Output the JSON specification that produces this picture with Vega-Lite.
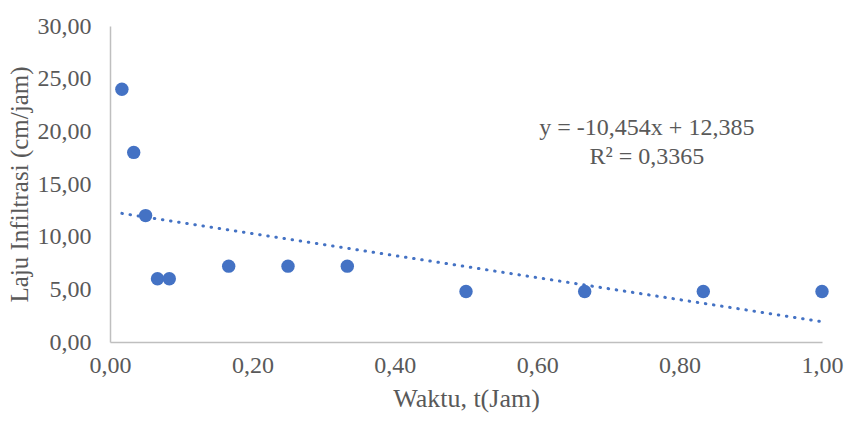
{
  "$schema": "https://vega.github.io/schema/vega-lite/v6.json",
  "width": 712,
  "height": 316,
  "autosize": "none",
  "padding": {"left": 110, "top": 26, "right": 23, "bottom": 79},
  "background": "white",
  "config": {
    "view": {"stroke": null},
    "font": "Liberation Serif",
    "axis": {
      "labelFont": "Liberation Serif",
      "titleFont": "Liberation Serif",
      "labelColor": "#595959",
      "titleColor": "#595959",
      "labelFontSize": 24,
      "titleFontSize": 25,
      "titleFontWeight": "normal",
      "domainColor": "#BFBFBF",
      "domainWidth": 1.5,
      "ticks": false,
      "grid": false,
      "labelFlush": false,
      "labelOverlap": false,
      "labelBound": false
    }
  },
  "datasets": {
    "points": [
      {"t": 0.0167, "laju": 24.0},
      {"t": 0.0333, "laju": 18.0},
      {"t": 0.05, "laju": 12.0},
      {"t": 0.0667, "laju": 6.0},
      {"t": 0.0833, "laju": 6.0},
      {"t": 0.1667, "laju": 7.2},
      {"t": 0.25, "laju": 7.2},
      {"t": 0.3333, "laju": 7.2},
      {"t": 0.5, "laju": 4.8},
      {"t": 0.6667, "laju": 4.8},
      {"t": 0.8333, "laju": 4.8},
      {"t": 1.0, "laju": 4.8}
    ],
    "trend": [
      {"t": 0.0167, "laju": 12.21},
      {"t": 1.0, "laju": 1.931}
    ],
    "eq": [
      {"t": 0.754, "laju": 20.3, "label": "y = -10,454x + 12,385"},
      {"t": 0.754, "laju": 17.55, "label": "R² = 0,3365"}
    ]
  },
  "layer": [
    {
      "data": {"name": "trend"},
      "mark": {"type": "line", "color": "#4472C4", "strokeWidth": 3, "strokeDash": [0.5, 7.7], "strokeCap": "round"},
      "encoding": {
        "x": {"field": "t", "type": "quantitative", "scale": {"domain": [0, 1], "padding": 0, "nice": false, "zero": false},
          "axis": {"title": "Waktu, t(Jam)", "titleFontSize": 26, "values": [0, 0.2, 0.4, 0.6, 0.8, 1.0],
            "labelExpr": "replace(format(datum.value, '.2f'), '.', ',')", "labelPadding": 11, "titlePadding": 8}},
        "y": {"field": "laju", "type": "quantitative", "scale": {"domain": [0, 30], "padding": 0, "nice": false},
          "axis": {"title": "Laju Infiltrasi (cm/jam)", "values": [0, 5, 10, 15, 20, 25, 30],
            "labelExpr": "replace(format(datum.value, '.2f'), '.', ',')", "labelPadding": 19, "titlePadding": 5}}
      }
    },
    {
      "data": {"name": "points"},
      "mark": {"type": "circle", "color": "#4472C4", "opacity": 1, "size": 180},
      "encoding": {
        "x": {"field": "t", "type": "quantitative"},
        "y": {"field": "laju", "type": "quantitative"}
      }
    },
    {
      "data": {"name": "eq"},
      "mark": {"type": "text", "font": "Liberation Serif", "fontSize": 24, "color": "#595959", "align": "center", "baseline": "middle"},
      "encoding": {
        "x": {"field": "t", "type": "quantitative"},
        "y": {"field": "laju", "type": "quantitative"},
        "text": {"field": "label"}
      }
    }
  ]
}
